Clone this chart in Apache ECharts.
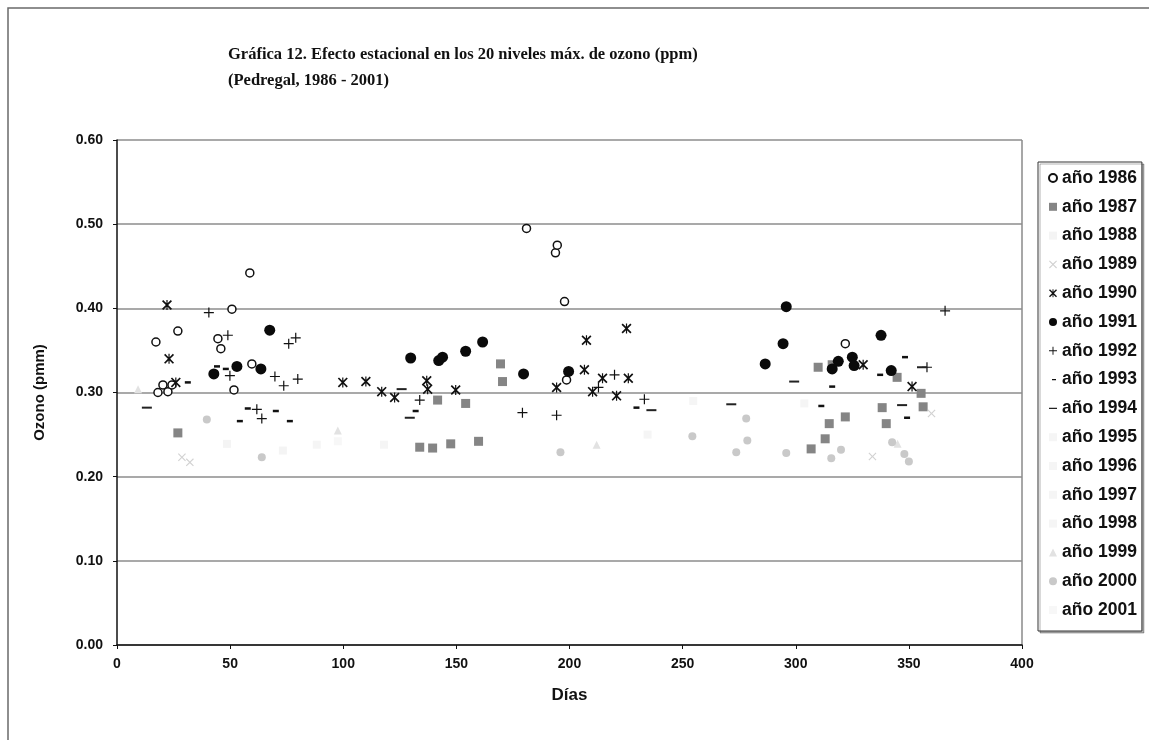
<!DOCTYPE html>
<html lang="es">
<head>
    <meta charset="utf-8">
    <title>Gráfica 12</title>
    <script src="https://cdn.jsdelivr.net/npm/echarts@6/dist/echarts.min.js"></script>
    <style type="text/css">
        html, body { margin: 0; padding: 0; background: #fff; }
        #chart { width: 1149px; height: 740px; }
    </style>
</head>
<body>
<div id="chart"></div>
<script>
    // [dia, ozono ppm]
    var y1986 = [[17.2,0.360],[18.1,0.300],[20.3,0.309],[22.5,0.301],[24.3,0.309],[26.9,0.373],[44.6,0.364],[45.9,0.352],[50.8,0.399],[51.7,0.303],[58.7,0.442],[59.6,0.334],[181,0.495],[193.8,0.466],[194.6,0.475],[197.8,0.408],[198.7,0.315],[321.9,0.358]];
    var y1987 = [[26.9,0.252],[133.8,0.235],[139.5,0.234],[141.7,0.291],[147.5,0.239],[154.1,0.287],[159.8,0.242],[169.5,0.334],[170.4,0.313],[306.8,0.233],[309.9,0.330],[313,0.245],[314.8,0.263],[316.1,0.333],[321.9,0.271],[338.2,0.282],[340,0.263],[344.8,0.318],[355.4,0.299],[356.3,0.283]];
    var y1988 = [[48.6,0.239],[73.3,0.231]];
    var y1989 = [[28.7,0.223],[32.2,0.217],[333.9,0.224],[360,0.275]];
    var y1990 = [[22.1,0.404],[23,0.340],[26,0.312],[99.8,0.312],[110,0.313],[117,0.301],[122.7,0.294],[136.9,0.314],[137.3,0.304],[149.7,0.303],[194.3,0.306],[206.6,0.327],[207.5,0.362],[210.2,0.301],[214.6,0.317],[220.8,0.296],[225.2,0.376],[226,0.317],[329.8,0.333],[351.4,0.307]];
    var y1991 = [[42.8,0.322],[53,0.331],[63.6,0.328],[67.5,0.374],[129.8,0.341],[142.2,0.338],[143.9,0.342],[154.1,0.349],[161.6,0.360],[179.7,0.322],[199.6,0.325],[286.5,0.334],[294.4,0.358],[295.8,0.402],[316.1,0.328],[318.8,0.337],[325,0.342],[325.8,0.332],[337.7,0.368],[342.2,0.326]];
    var y1992 = [[40.6,0.395],[49,0.368],[49.9,0.320],[61.8,0.280],[64,0.269],[69.8,0.319],[73.7,0.308],[75.9,0.358],[79,0.365],[79.9,0.316],[133.8,0.291],[179.2,0.276],[194.3,0.273],[212.8,0.306],[219.9,0.321],[233.1,0.292],[358,0.330],[366,0.397]];
    var y1993 = [[31.3,0.312],[44.2,0.331],[48.1,0.328],[54.3,0.266],[57.8,0.281],[70.2,0.278],[76.4,0.266],[132,0.278],[229.6,0.282],[311.3,0.284],[316.1,0.307],[337.3,0.321],[348.3,0.342],[349.2,0.270]];
    var y1994 = [[13.2,0.282],[125.8,0.304],[129.4,0.270],[236.2,0.279],[271.5,0.286],[299.3,0.313],[347,0.285],[355.8,0.330]];
    var y1995 = [[88.3,0.238],[118,0.238]];
    var y1996 = [[303.8,0.287]];
    var y1997 = [[234.5,0.250]];
    var y1998 = [[254.7,0.290]];
    var y1999 = [[9.3,0.304],[97.6,0.255],[212,0.238],[345,0.239]];
    var y2000 = [[39.7,0.268],[64,0.223],[196,0.229],[254.3,0.248],[273.7,0.229],[278.1,0.269],[278.6,0.243],[295.8,0.228],[315.7,0.222],[320,0.232],[342.6,0.241],[348,0.227],[350,0.218]];
    var y2001 = [[97.6,0.242]];

    var years = ['1986','1987','1988','1989','1990','1991','1992','1993','1994','1995','1996','1997','1998','1999','2000','2001'];
    var yData = [y1986,y1987,y1988,y1989,y1990,y1991,y1992,y1993,y1994,y1995,y1996,y1997,y1998,y1999,y2000,y2001];

    var X_PATH = 'path://M0,1L1,0L5,4L9,0L10,1L6,5L10,9L9,10L5,6L1,10L0,9L4,5Z';
    var STAR_PATH = 'path://M0,1.2L1.2,0L5,3.8L8.8,0L10,1.2L6.2,5L10,8.8L8.8,10L5,6.2L1.2,10L0,8.8L3.8,5Z M4.4,0H5.6V10H4.4Z';
    var PLUS_PATH = 'path://M4.4,0H5.6V4.4H10V5.6H5.6V10H4.4V5.6H0V4.4H4.4Z';
    var SDASH_ICON = 'path://M0,0L0.01,0Z M2.5,4.1H7.5V5.9H2.5Z M0,10L0.01,10Z';
    var LDASH_ICON = 'path://M0,0L0.01,0Z M0,4.3H10V5.7H0Z M0,10L0.01,10Z';

    // estilo de cada año: simbolo, tamaño, relleno, borde
    var styles = {
        '1986': { symbol: 'circle', size: 8, color: '#fff', border: '#111', bw: 1.5 },
        '1987': { symbol: 'rect', size: 9, color: '#858585' },
        '1988': { symbol: 'rect', size: 8, color: '#f4f4f4' },
        '1989': { symbol: X_PATH, size: 8, color: '#d2d2d2' },
        '1990': { symbol: STAR_PATH, size: 10, color: '#111' },
        '1991': { symbol: 'circle', size: 11, color: '#0a0a0a' },
        '1992': { symbol: PLUS_PATH, size: 10, color: '#111' },
        '1993': { symbol: 'rect', size: [6, 2.5], color: '#111', icon: SDASH_ICON },
        '1994': { symbol: 'rect', size: [10, 2], color: '#222', icon: LDASH_ICON },
        '1995': { symbol: 'rect', size: 8, color: '#f5f5f5' },
        '1996': { symbol: 'rect', size: 8, color: '#f5f5f5' },
        '1997': { symbol: 'rect', size: 8, color: '#f5f5f5' },
        '1998': { symbol: 'rect', size: 8, color: '#f5f5f5' },
        '1999': { symbol: 'triangle', size: 8, color: '#e2e2e2' },
        '2000': { symbol: 'circle', size: 8, color: '#c9c9c9' },
        '2001': { symbol: 'rect', size: 8, color: '#f7f7f7' }
    };

    var series = [];
    var legendData = [];
    for (var i = 0; i < years.length; i++) {
        var s = styles[years[i]];
        var name = 'año ' + years[i];
        series.push({
            name: name,
            type: 'scatter',
            data: yData[i],
            symbol: s.symbol,
            symbolSize: s.size,
            itemStyle: {
                color: s.color,
                borderColor: s.border || s.color,
                borderWidth: s.bw || 0,
                opacity: 1
            },
            emphasis: { disabled: true }
        });
        legendData.push({ name: name, icon: s.icon || s.symbol });
    }

    var chart = echarts.init(document.getElementById('chart'));
    option = {
        backgroundColor: '#fff',
        animation: false,
        title: {
            text: 'Gráfica 12. Efecto estacional en los 20 niveles máx. de ozono (ppm)\n(Pedregal, 1986 - 2001)',
            left: 223,
            top: 37,
            textStyle: {
                fontFamily: 'Liberation Serif',
                fontWeight: 'bold',
                fontSize: 16.5,
                lineHeight: 26,
                color: '#111'
            }
        },
        graphic: [{
            type: 'polyline',
            shape: { points: [[8, 740], [8, 8], [1149, 8]] },
            style: { stroke: '#6a6a6a', lineWidth: 1.5, fill: null }
        }, {
            type: 'line',
            shape: { x1: 1022, y1: 140, x2: 1022, y2: 645 },
            style: { stroke: '#8a8a8a', lineWidth: 1.5 }
        }],
        legend: {
            orient: 'vertical',
            left: 1038,
            top: 162,
            data: legendData,
            itemWidth: 8,
            itemHeight: 8,
            itemGap: 10.8,
            padding: [7, 5, 12, 10],
            borderColor: '#333',
            borderWidth: 1,
            backgroundColor: '#fff',
            shadowColor: 'rgba(0,0,0,0.3)',
            shadowOffsetX: 2,
            shadowOffsetY: 2,
            shadowBlur: 0,
            selectedMode: false,
            textStyle: {
                fontFamily: 'Liberation Sans',
                fontWeight: 'bold',
                fontSize: 17.5,
                color: '#111'
            }
        },
        grid: {
            left: 117,
            right: 127,
            top: 140,
            bottom: 95
        },
        xAxis: {
            type: 'value',
            min: 0,
            max: 400,
            interval: 50,
            name: 'Días',
            nameLocation: 'middle',
            nameGap: 42,
            nameTextStyle: { fontFamily: 'Liberation Sans', fontWeight: 'bold', fontSize: 17, color: '#111' },
            axisLine: { lineStyle: { color: '#111', width: 1.5 } },
            axisTick: { show: true, length: 4, lineStyle: { color: '#111' } },
            axisLabel: { fontFamily: 'Liberation Sans', fontWeight: 'bold', fontSize: 14, color: '#111', margin: 12 },
            splitLine: { show: false }
        },
        yAxis: {
            type: 'value',
            min: 0,
            max: 0.6,
            interval: 0.1,
            name: 'Ozono (pmm)',
            nameLocation: 'middle',
            nameGap: 70,
            nameTextStyle: { fontFamily: 'Liberation Sans', fontWeight: 'bold', fontSize: 15, color: '#111' },
            axisLine: { show: true, lineStyle: { color: '#111', width: 1.5 } },
            axisTick: { show: true, length: 4, lineStyle: { color: '#111' } },
            axisLabel: {
                fontFamily: 'Liberation Sans',
                fontWeight: 'bold',
                fontSize: 14,
                color: '#111',
                margin: 14,
                formatter: function(v) { return v.toFixed(2); }
            },
            splitLine: { show: true, lineStyle: { color: '#8c8c8c', width: 1.5 } }
        },
        series: series
    };
    chart.setOption(option);
</script>
</body>
</html>
